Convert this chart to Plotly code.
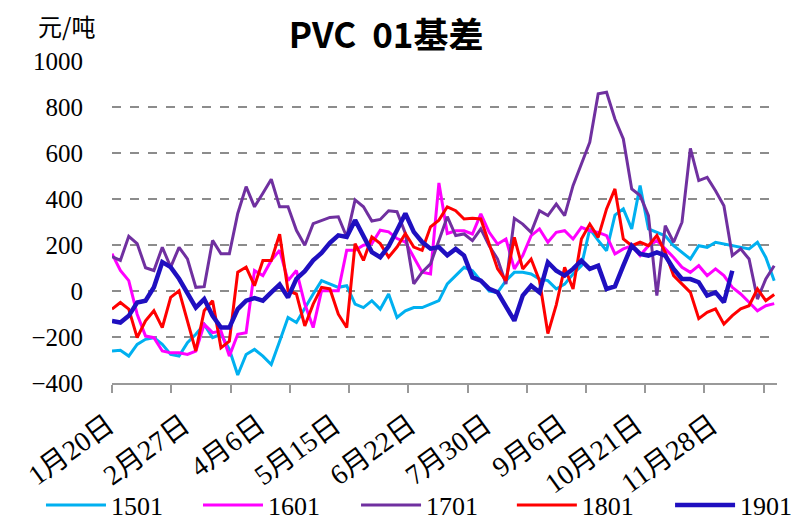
import plotly.graph_objects as go

# trading-day index (every 3rd trading day sampled)
DAYS = list(range(0, 238, 3))

TICK_DAYS = [0, 27, 54, 81, 108, 135, 162, 189, 216]
TICK_LABELS = ["1月20日", "2月27日", "4月6日", "5月15日", "6月22日",
               "7月30日", "9月6日", "10月21日", "11月28日"]

S1501 = [-261, -258, -283, -232, -210, -203, -232, -276, -283, -225, -188, -145, -203, -188, -254, -365, -276, -254, -283, -320, -218,
         -115, -137, -72, -13, 45, 31, 16, 23, -57, -72, -42, -79, -13, -115, -86, -72, -72, -57, -42, 31,
         67, 103, 88, 45, 0, -6, 45, 81, 81, 74, 52, 45, 9, 30, 74, 110, 270, 220, 175, 330,
         357, 270, 458, 270, 255, 240, 197, 168, 139, 197, 190, 212, 204, 197, 190, 183, 212, 146, 45]

S1601 = [162, 89, 45, -101, -196, -203, -261, -269, -269, -276, -261, -145, -181, -174, -283, -188, -181, 89, 67, 133, 177,
         45, 89, -57, -159, 1, 1, 1, 177, 177, 199, 206, 264, 257, 228, 213, 147, 82, 74, 470, 250,
         262, 262, 248, 335, 255, 204, 226, 96, 154, 241, 270, 212, 255, 262, 226, 277, 262, 255, 241, 161,
         183, 197, 154, 197, 219, 183, 146, 103, 81, 110, 67, 96, 67, 16, -13, -49, -86, -64, -55]

S1701 = [150, 133, 238, 206, 101, 89, 190, 104, 190, 140, 16, 19, 220, 162, 162, 337, 454, 366, 425, 486, 366,
         366, 264, 199, 293, 308, 320, 323, 235, 396, 366, 304, 311, 349, 345, 250, 31, 82, 118, 220, 323,
         241, 248, 219, 270, 197, 139, 30, 316, 291, 255, 349, 328, 378, 328, 458, 552, 647, 857, 864, 748,
         661, 444, 415, 328, -20, 284, 212, 299, 620, 480, 494, 436, 371, 154, 183, 139, -35, 52, 110]

S1801 = [-79, -50, -79, -203, -130, -86, -159, -28, 1, -130, -261, -86, -42, -247, -218, 82, 104, 23, 133, 133, 247,
         1, -13, -152, -57, 16, 9, -101, -159, 206, 133, 235, 206, 147, 191, 250, 191, 177, 279, 308, 366,
         349, 313, 316, 313, 204, 96, 45, 233, 96, 139, 45, -185, -60, 103, 9, 226, 291, 233, 357, 444,
         226, 197, 212, 197, 241, 168, 67, 30, -6, -120, -93, -78, -144, -107, -78, -64, 9, -42, -15]

S1901 = [-130, -137, -108, -50, -42, 16, 126, 104, 53, -13, -72, -35, -108, -159, -159, -79, -42, -31, -42, -6, 28,
         -28, 53, 86, 133, 165, 209, 242, 235, 308, 242, 169, 147, 194, 264, 337, 257, 213, 184, 191, 155,
         183, 154, 59, 45, 9, -6, -64, -129, -20, 23, -6, 125, 88, 67, 96, 132, 96, 110, 9, 20,
         110, 197, 161, 154, 168, 154, 96, 52, 52, 38, -20, -6, -49, 88, None, None, None, None, None]

SERIES = [("1501", S1501, "#00B0F0", 3),
          ("1601", S1601, "#FF00FF", 3),
          ("1701", S1701, "#7030A0", 3),
          ("1801", S1801, "#FF0000", 3),
          ("1901", S1901, "#1F0FC0", 4.5)]

SERIF = "Liberation Serif, Times New Roman, Noto Sans CJK SC, serif"
W, H = 791, 519  # page body has an 8px margin inside the 799x527 window

LEGEND_X = [0.0417, 0.2402, 0.440, 0.637, 0.837]
LEGEND_IDS = ["legend", "legend2", "legend3", "legend4", "legend5"]

fig = go.Figure()
for (name, vals, color, w), lid in zip(SERIES, LEGEND_IDS):
    fig.add_trace(go.Scatter(x=DAYS, y=vals, name=name, mode="lines",
                             line=dict(color=color, width=w),
                             connectgaps=False, legend=lid))

legend_common = dict(orientation="h", xref="container", yref="container",
                     y=1 - 497 / H, xanchor="left", yanchor="middle",
                     font=dict(family=SERIF, size=26, color="black"),
                     itemwidth=60, bgcolor="rgba(0,0,0,0)", borderwidth=0)
legend_layout = {lid: dict(x=lx, **legend_common) for lid, lx in zip(LEGEND_IDS, LEGEND_X)}

fig.update_layout(
    width=W, height=H,
    margin=dict(l=104, r=22, t=53, b=144, autoexpand=False),
    paper_bgcolor="white", plot_bgcolor="white",
    title=dict(text="<b>PVC  01基差</b>", x=0.478, xref="container",
               y=1 - 27.5 / H, yref="container", xanchor="center", yanchor="middle",
               font=dict(family="Liberation Sans Narrow, Arial Narrow, Noto Sans CJK SC, sans-serif",
                         size=35, color="black")),
    showlegend=True,
    annotations=[dict(text="元/吨", xref="paper", yref="paper", x=-0.069, y=(375 - 18) / 322,
                      xanchor="center", yanchor="middle", showarrow=False,
                      font=dict(family="Noto Sans CJK SC, sans-serif", size=24, color="black"))],
    **legend_layout,
)

fig.update_xaxes(range=[0, 238], tickmode="array", tickvals=TICK_DAYS, ticktext=TICK_LABELS,
                 tickangle=-36, ticks="outside", ticklen=13, tickcolor="rgba(0,0,0,0)",
                 ticklabelshift=-4,
                 tickfont=dict(family=SERIF, size=28, color="black"),
                 showgrid=False, zeroline=False, showline=True, linecolor="#999999", linewidth=1.5,
                 minor=dict(ticks="outside", ticklen=8, tickwidth=1.5, tickcolor="#999999",
                            tick0=0.05, dtick=21.2, showgrid=False))

fig.update_yaxes(range=[-400, 1000], tickmode="array", tickvals=list(range(-400, 1001, 200)),
                 ticks="outside", ticklen=23, tickcolor="rgba(0,0,0,0)",
                 tickfont=dict(family=SERIF, size=25, color="black"),
                 showgrid=True, gridcolor="#8c8c8c", gridwidth=1.5, griddash="dash",
                 zeroline=False, showline=False)

fig.write_html("out.html")
